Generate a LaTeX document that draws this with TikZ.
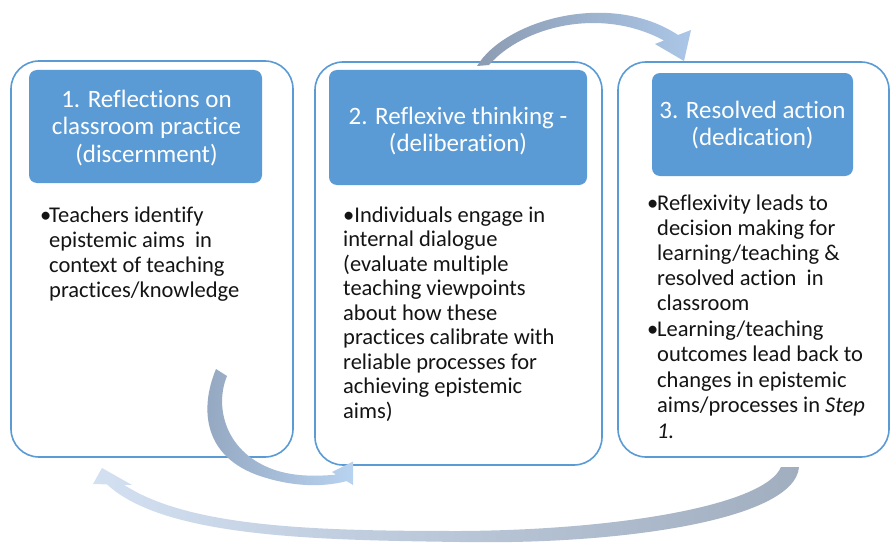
\documentclass[tikz,border=0pt]{standalone}
\usepackage{fontspec}
\setmainfont{Carlito}[Ligatures={NoCommon,NoContextual}]
\definecolor{boxblue}{HTML}{5B9BD5}
\definecolor{headblue}{HTML}{5B9BD5}
\definecolor{bodyink}{HTML}{141414}
\definecolor{tailgray}{HTML}{8C9CB2}
\definecolor{headlight}{HTML}{ABC6E7}
\definecolor{midtail}{HTML}{93A6BF}
\definecolor{midlight}{HTML}{B8D3F0}
\definecolor{loopgray}{HTML}{A0AEC0}
\definecolor{looppale}{HTML}{F0F4F9}
\definecolor{loophead}{HTML}{D3E0F2}
\begin{document}
\begin{tikzpicture}[x=1pt,y=-1pt,
  frame/.style={draw=boxblue, line width=1.6pt, rounded corners=28pt, inner sep=0pt},
  header/.style={fill=headblue, rounded corners=8pt, inner sep=0pt},
  headtext/.style={text=white, font=\fontsize{25}{27.5}\selectfont, inner sep=0pt, anchor=base},
  bodytext/.style={text=bodyink, font=\fontsize{22.5}{24.5}\selectfont, inner sep=0pt, anchor=base west},
]
% canvas
\fill[white] (0,0) rectangle (891,543);
\useasboundingbox (0,0) rectangle (891,543);

% outer frames of the three stages
\node[frame, minimum width=282pt, minimum height=396pt] (f1) at (152,259) {};
\node[frame, minimum width=287pt, minimum height=403pt] (f2) at (458.5,263.5) {};
\node[frame, minimum width=271pt, minimum height=395pt] (f3) at (753.5,259.5) {};

% title plates
\node[header, minimum width=233pt, minimum height=113pt] (h1) at (145.5,126.5) {};
\node[header, minimum width=258pt, minimum height=115pt] (h2) at (458,127.5) {};
\node[header, minimum width=201pt, minimum height=103pt] (h3) at (752.5,124.5) {};

% titles
\node[headtext] (t1a) at (146.5,107)   {1. Reflections on};
\node[headtext] (t1b) at (146.5,134.5) {classroom practice};
\node[headtext] (t1c) at (146.5,162)   {(discernment)};
\node[headtext] (t2a) at (458,124)     {2. Reflexive thinking -};
\node[headtext] (t2b) at (458,151.5)   {(deliberation)};
\node[headtext] (t3a) at (752.5,118)   {3. Resolved action};
\node[headtext] (t3b) at (752.5,145)   {(dedication)};

% stage 1 text
\node[bodytext] (d1) at (40,222) {•};
\foreach \t [count=\i] in {{Teachers identify}, {epistemic aims\ \ in},
    {context of teaching}, {practices/knowledge}}
  \node[bodytext] (s1-\i) at (49,{222+25*(\i-1)}) {\t};

% stage 2 text
\node[bodytext] (s2-1) at (343,222) {•Individuals engage in};
\foreach \t [count=\i from 2] in {{internal dialogue}, {(evaluate multiple},
    {teaching viewpoints}, {about how these}, {practices calibrate with},
    {reliable processes for}, {achieving epistemic}, {aims)}}
  \node[bodytext] (s2-\i) at (343,{222+24.5*(\i-1)}) {\t};

% stage 3 text
\node[bodytext] (d3a) at (647,210) {•};
\foreach \t [count=\i] in {{Reflexivity leads to}, {decision making for},
    {learning/teaching \&}, {resolved action\ \ in}, {classroom}}
  \node[bodytext] (s3a-\i) at (657,{210+25*(\i-1)}) {\t};
\node[bodytext] (d3b) at (647,336) {•};
\foreach \t [count=\i] in {{Learning/teaching}, {outcomes lead back to},
    {changes in epistemic}, {aims/processes in \textit{Step}}, {\textit{1.}}}
  \node[bodytext] (s3b-\i) at (657,{336+25.5*(\i-1)}) {\t};

% curved arrow from stage 2 over to stage 3
\shade[left color=tailgray, right color=headlight]
  (477,66) .. controls (505,20) and (610,-10) .. (678,35)
  -- (691,30) -- (684,61) -- (655,44) -- (664,40.5)
  .. controls (600,6) and (522,27) .. (489,65) -- cycle;

% curved arrow from stage 1 down and over to stage 2
\shade[left color=midtail, right color=midlight]
  (216,369) .. controls (199,410) and (204,457) .. (260,476)
  .. controls (290,486) and (320,488) .. (346.7,481.1)
  -- (353,485) -- (353,461.5) -- (332,472) -- (336.2,474.6)
  .. controls (310,477) and (286,476) .. (265,466)
  .. controls (224,447) and (215,405) .. (227,376) -- cycle;

% feedback arrow from stage 3 back to stage 1
\shade[left color=loophead, middle color=looppale, right color=loopgray]
  (799,467) .. controls (795,520) and (620,545) .. (460,542)
  .. controls (320,540) and (165,538) .. (107,484.4)
  -- (93,484) -- (102,468) -- (132,485) -- (124,484.8)
  .. controls (190,528) and (320,531) .. (460,531)
  .. controls (620,530) and (765,505) .. (781,467) -- cycle;
\end{tikzpicture}
\end{document}
